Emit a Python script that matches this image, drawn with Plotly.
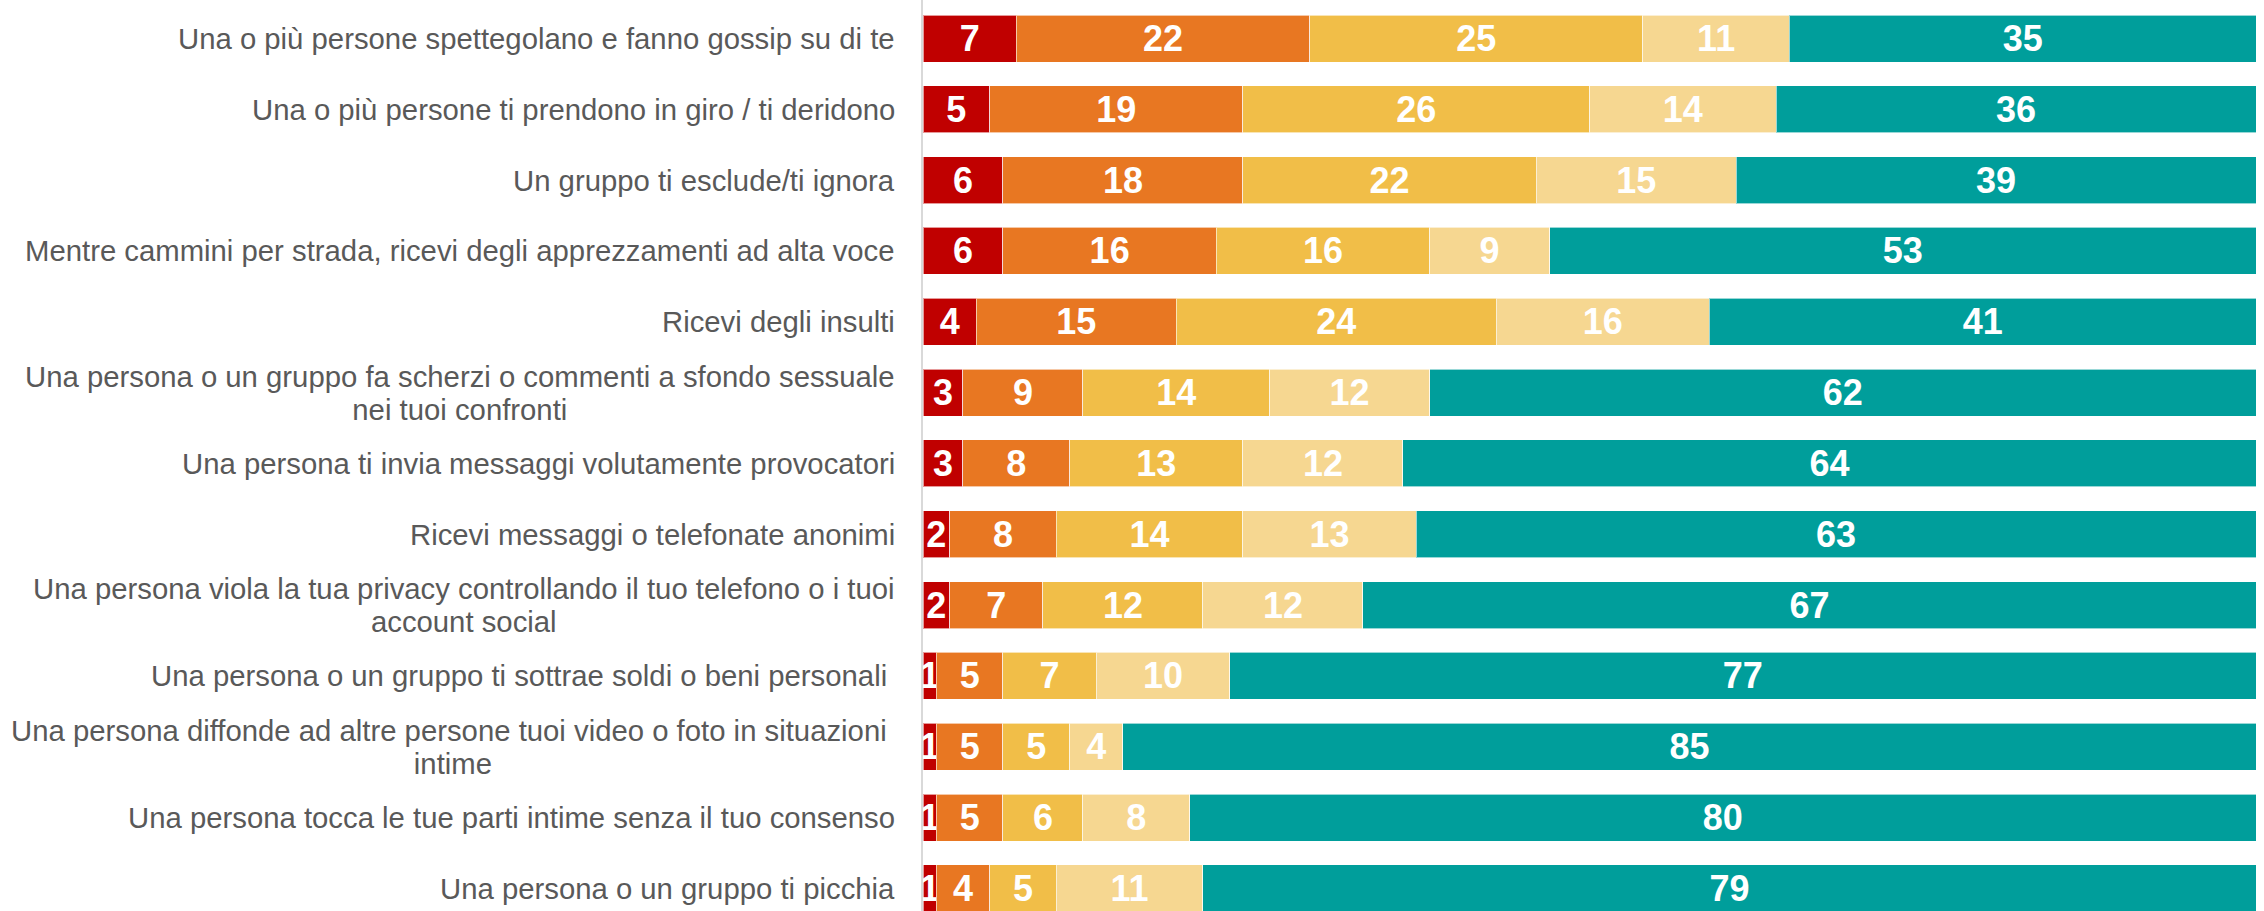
import plotly.graph_objects as go

categories = [
    "Una o più persone spettegolano e fanno gossip su di te",
    "Una o più persone ti prendono in giro / ti deridono",
    "Un gruppo ti esclude/ti ignora",
    "Mentre cammini per strada, ricevi degli apprezzamenti ad alta voce",
    "Ricevi degli insulti",
    "Una persona o un gruppo fa scherzi o commenti a sfondo sessuale<br>nei tuoi confronti",
    "Una persona ti invia messaggi volutamente provocatori",
    "Ricevi messaggi o telefonate anonimi",
    "Una persona viola la tua privacy controllando il tuo telefono o i tuoi<br>account social",
    "Una persona o un gruppo ti sottrae soldi o beni personali ",
    "Una persona diffonde ad altre persone tuoi video o foto in situazioni <br>intime",
    "Una persona tocca le tue parti intime senza il tuo consenso",
    "Una persona o un gruppo ti picchia",
]

series_names = ["Sempre", "Spesso", "Qualche volta", "Raramente", "Mai"]
v_red = [7, 5, 6, 6, 4, 3, 3, 2, 2, 1, 1, 1, 1]
v_orange = [22, 19, 18, 16, 15, 9, 8, 8, 7, 5, 5, 5, 4]
v_yellow = [25, 26, 22, 16, 24, 14, 13, 14, 12, 7, 5, 6, 5]
v_light = [11, 14, 15, 9, 16, 12, 12, 13, 12, 10, 4, 8, 11]
v_teal = [35, 36, 39, 53, 41, 62, 64, 63, 67, 77, 85, 80, 79]

series_values = [v_red, v_orange, v_yellow, v_light, v_teal]
colors = ["#C00000", "#E87722", "#F1BE48", "#F6D791", "#009E9B"]

FONT = "Liberation Sans, Arial, sans-serif"

fig = go.Figure()
for name, vals, col in zip(series_names, series_values, colors):
    fig.add_trace(go.Bar(
        y=categories, x=vals, name=name, orientation="h",
        marker=dict(color=col, line=dict(color="rgba(255,255,255,0.6)", width=1)),
        text=[str(v) for v in vals],
        textposition="inside", insidetextanchor="middle", textangle=0,
        textfont=dict(family=FONT, size=36, color="white", weight="bold"),
        cliponaxis=True, showlegend=False, hoverinfo="skip",
    ))

for c in categories:
    label = c.replace(" <br>", "\u00a0<br>")
    if label.endswith(" "):
        label = label[:-1] + "\u00a0"
    lines = label.split("<br>")
    styled = "<br>".join('<span style="font-size:29.3px">' + ln + "</span>" for ln in lines)
    fig.add_annotation(
        xref="paper", x=0, yref="y", y=c, text=styled, showarrow=False,
        xanchor="right", yanchor="middle", align="center", xshift=-26,
        font=dict(family=FONT, size=25.4, color="#595959"),
    )

fig.update_layout(
    width=2264, height=911, barmode="stack", bargap=0.336,
    margin=dict(l=923, r=8, t=0, b=0),
    plot_bgcolor="white", paper_bgcolor="white",
    uniformtext=dict(minsize=36, mode="show"),
    xaxis=dict(range=[0, 100], showticklabels=False, showgrid=False, zeroline=False, showline=False, ticks=""),
    yaxis=dict(type="category", categoryorder="array", categoryarray=categories,
               range=[12.32, -0.544], showticklabels=False, showgrid=False, zeroline=False,
               showline=True, linecolor="#D9D9D9", linewidth=2, ticks=""),
)

fig.write_html("out.html", config={"displayModeBar": False},
               post_script="document.body.style.margin='0';")
